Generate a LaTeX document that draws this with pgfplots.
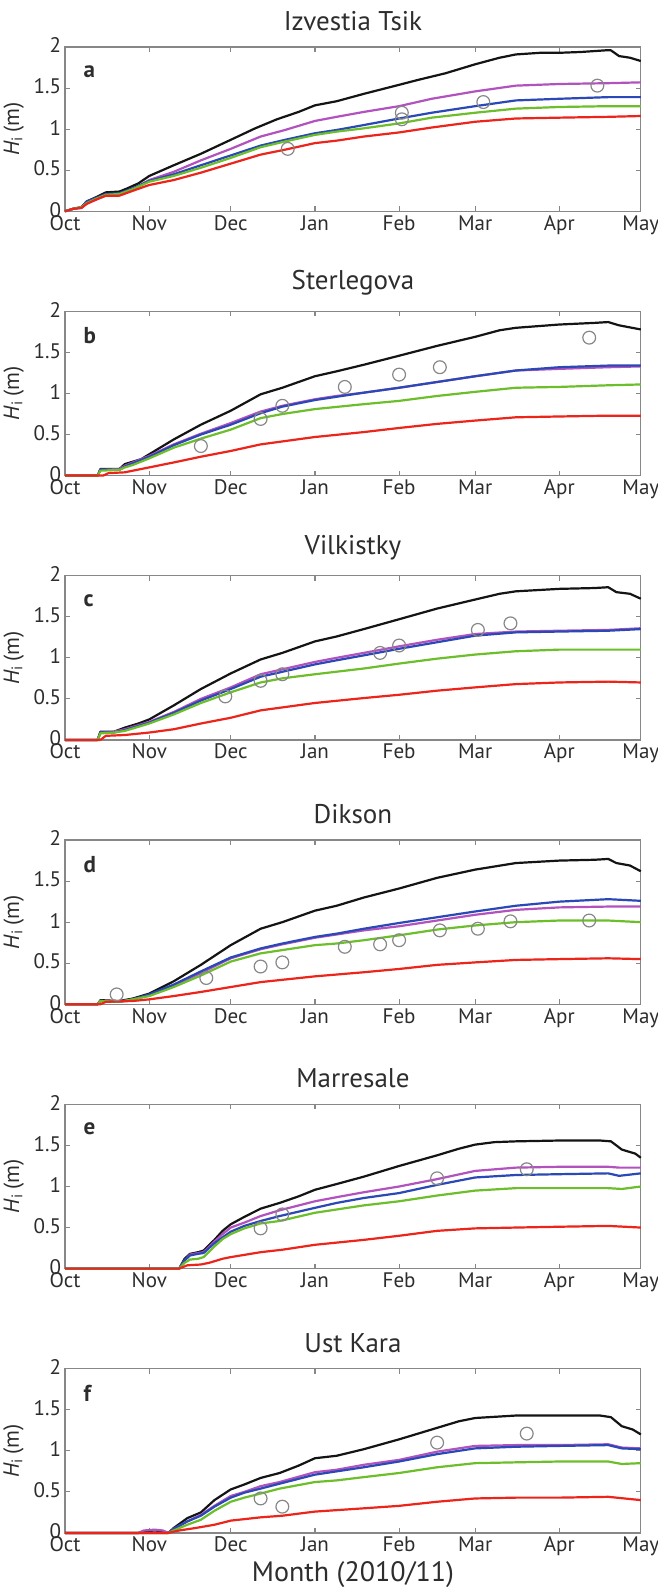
\documentclass[border=0pt]{standalone}
\usepackage{fontspec}
\setmainfont{PT Sans}
\usepackage{pgfplots}
\pgfplotsset{compat=1.18}
\usepgfplotslibrary{groupplots}

\definecolor{cblack}{RGB}{20,20,20}
\definecolor{cpurple}{RGB}{178,82,190}
\definecolor{cblue}{RGB}{42,72,182}
\definecolor{cgreen}{RGB}{108,190,42}
\definecolor{cred}{RGB}{236,36,26}
\definecolor{cgray}{RGB}{135,135,135}
\definecolor{ctext}{RGB}{45,45,45}

\pgfplotsset{
  ln/.style={no markers, line width=1.1pt, line join=round},
  obs/.style={only marks, mark=o, mark size=3.2pt, cgray, mark options={line width=0.6pt}},
}
\tikzset{panel/.style={anchor=west, font=\fontsize{11.5}{13}\selectfont\bfseries, text=ctext}}

\begin{document}
\begin{tikzpicture}
\begin{groupplot}[
  group style={group size=1 by 6, vertical sep=50pt},
  scale only axis, width=287.5pt, height=82pt,
  xmin=0, xmax=212, ymin=0, ymax=2,
  xtick={0,31,61,92,123,151,182,212},
  xticklabels={Oct,Nov,Dec,Jan,Feb,Mar,Apr,May},
  ytick={0,0.5,1,1.5,2},
  yticklabels={0,0.5,1,1.5,2},
  tick align=inside, major tick length=2.5pt,
  axis line style={cgray, line width=0.6pt},
  tick style={cgray, line width=0.6pt},
  ticklabel style={font=\fontsize{10.5}{11}\selectfont, text=ctext},
  xticklabel style={yshift=1.5pt},
  yticklabel style={xshift=1.5pt, yshift=0.8pt},
  /pgf/number format/assume math mode=true,
  ylabel={\textit{H}\textsubscript{i}\,(m)},
  ylabel style={font=\fontsize{11}{13}\selectfont, text=ctext, yshift=-2pt},
  title style={font=\fontsize{13.5}{15}\selectfont, text=ctext, yshift=-1.5pt},
  clip=false,
]
% ---------- a
\nextgroupplot[title={Izvestia Tsik}]
\addplot[ln,cblack] coordinates {(0,0) (3,0.03) (6,0.05) (8,0.12) (12,0.18) (15,0.23) (20,0.24) (23,0.28) (27,0.34) (31,0.43) (40,0.56) (50,0.70) (61,0.87) (70,1.01) (78,1.12) (86,1.21) (92,1.29) (100,1.34) (110,1.43) (123,1.54) (130,1.60) (140,1.68) (151,1.79) (160,1.87) (166,1.91) (175,1.93) (182,1.93) (190,1.94) (199,1.96) (201,1.96) (204,1.89) (208,1.87) (212,1.83)};
\addplot[ln,cpurple] coordinates {(0,0) (3,0.03) (6,0.04) (8,0.10) (12,0.15) (15,0.19) (20,0.21) (25,0.27) (31,0.38) (40,0.48) (50,0.62) (61,0.76) (72,0.91) (81,0.99) (92,1.10) (100,1.15) (110,1.21) (123,1.28) (135,1.37) (151,1.46) (166,1.53) (182,1.55) (200,1.56) (212,1.57)};
\addplot[ln,cblue] coordinates {(0,0) (3,0.03) (6,0.05) (8,0.12) (12,0.17) (15,0.21) (20,0.22) (25,0.28) (31,0.37) (40,0.45) (50,0.56) (61,0.68) (72,0.80) (81,0.87) (92,0.95) (100,0.99) (110,1.05) (123,1.13) (135,1.20) (151,1.28) (166,1.35) (182,1.37) (200,1.39) (212,1.39)};
\addplot[ln,cgreen] coordinates {(0,0) (3,0.03) (6,0.05) (8,0.10) (12,0.16) (15,0.20) (20,0.21) (25,0.27) (31,0.36) (40,0.43) (50,0.53) (61,0.65) (72,0.78) (81,0.85) (92,0.93) (100,0.97) (110,1.01) (123,1.07) (135,1.14) (151,1.20) (166,1.25) (182,1.27) (200,1.28) (212,1.28)};
\addplot[ln,cred] coordinates {(0,0) (3,0.03) (6,0.04) (8,0.09) (12,0.15) (15,0.19) (20,0.19) (25,0.25) (31,0.32) (40,0.38) (50,0.47) (61,0.58) (72,0.69) (81,0.75) (92,0.83) (100,0.86) (110,0.91) (123,0.96) (135,1.02) (151,1.09) (166,1.13) (182,1.14) (200,1.15) (212,1.16)};
\addplot[obs] coordinates {(82,0.76) (124,1.20) (124,1.12) (154,1.33) (196,1.53)};
\node[panel] at (rel axis cs:0.02,0.85) {a};
% ---------- b
\nextgroupplot[title={Sterlegova}]
\addplot[ln,cblack] coordinates {(0,0) (12,0) (13,0.08) (20,0.08) (22,0.14) (25,0.17) (28,0.20) (31,0.26) (40,0.44) (50,0.62) (61,0.79) (72,0.99) (80,1.07) (92,1.21) (100,1.27) (110,1.35) (123,1.46) (137,1.58) (151,1.69) (160,1.77) (166,1.80) (182,1.84) (195,1.86) (200,1.87) (204,1.83) (212,1.78)};
\addplot[ln,cpurple] coordinates {(0,0) (12,0) (13,0.07) (20,0.08) (22,0.12) (25,0.16) (31,0.24) (40,0.38) (50,0.51) (61,0.64) (72,0.78) (80,0.85) (92,0.93) (100,0.97) (110,1.01) (123,1.07) (137,1.14) (151,1.21) (166,1.28) (182,1.30) (200,1.32) (212,1.33)};
\addplot[ln,cblue] coordinates {(0,0) (12,0) (13,0.07) (20,0.07) (22,0.11) (25,0.15) (31,0.23) (40,0.37) (50,0.50) (61,0.62) (72,0.76) (80,0.84) (92,0.92) (100,0.96) (110,1.01) (123,1.07) (137,1.14) (151,1.21) (166,1.28) (182,1.32) (200,1.34) (212,1.34)};
\addplot[ln,cgreen] coordinates {(0,0) (12,0) (13,0.06) (20,0.07) (22,0.10) (25,0.13) (31,0.21) (40,0.34) (50,0.45) (61,0.56) (72,0.70) (80,0.75) (92,0.81) (110,0.87) (123,0.91) (137,0.97) (151,1.02) (166,1.07) (182,1.08) (200,1.10) (212,1.11)};
\addplot[ln,cred] coordinates {(0,0) (14,0) (16,0.03) (22,0.04) (31,0.10) (40,0.16) (50,0.23) (61,0.30) (72,0.38) (92,0.47) (110,0.53) (123,0.58) (137,0.63) (151,0.67) (166,0.71) (182,0.72) (200,0.73) (212,0.73)};
\addplot[obs] coordinates {(50,0.36) (72,0.69) (80,0.85) (103,1.08) (123,1.23) (138,1.32) (193,1.68)};
\node[panel] at (rel axis cs:0.02,0.85) {b};
% ---------- c
\nextgroupplot[title={Vilkistky}]
\addplot[ln,cblack] coordinates {(0,0) (12,0) (13,0.10) (18,0.10) (22,0.15) (27,0.20) (31,0.25) (40,0.42) (50,0.62) (61,0.81) (72,0.98) (80,1.06) (92,1.20) (100,1.26) (110,1.35) (123,1.47) (137,1.60) (151,1.71) (160,1.78) (166,1.81) (182,1.84) (195,1.85) (200,1.86) (203,1.80) (208,1.78) (212,1.72)};
\addplot[ln,cpurple] coordinates {(0,0) (12,0) (13,0.09) (18,0.10) (22,0.13) (27,0.18) (31,0.22) (40,0.34) (50,0.50) (61,0.64) (72,0.80) (80,0.86) (92,0.95) (100,1.00) (110,1.06) (123,1.14) (137,1.22) (151,1.29) (166,1.32) (182,1.33) (200,1.34) (212,1.36)};
\addplot[ln,cblue] coordinates {(0,0) (12,0) (13,0.09) (18,0.09) (22,0.12) (27,0.17) (31,0.21) (40,0.33) (50,0.48) (61,0.62) (72,0.77) (80,0.83) (92,0.92) (100,0.97) (110,1.03) (123,1.11) (137,1.19) (151,1.27) (166,1.31) (182,1.32) (200,1.33) (212,1.35)};
\addplot[ln,cgreen] coordinates {(0,0) (12,0) (13,0.08) (18,0.09) (22,0.11) (27,0.16) (31,0.20) (40,0.31) (50,0.45) (61,0.58) (72,0.70) (80,0.75) (92,0.80) (110,0.87) (123,0.93) (137,0.99) (151,1.04) (166,1.08) (182,1.10) (200,1.10) (212,1.10)};
\addplot[ln,cred] coordinates {(0,0) (13,0) (15,0.05) (22,0.06) (31,0.09) (40,0.13) (50,0.20) (61,0.27) (72,0.36) (92,0.45) (110,0.51) (123,0.55) (137,0.60) (151,0.64) (166,0.68) (182,0.70) (200,0.71) (212,0.70)};
\addplot[obs] coordinates {(59,0.53) (72,0.72) (80,0.80) (116,1.06) (123,1.15) (152,1.34) (164,1.42)};
\node[panel] at (rel axis cs:0.02,0.85) {c};
% ---------- d
\nextgroupplot[title={Dikson}]
\addplot[ln,cblack] coordinates {(0,0) (12,0) (13,0.05) (20,0.04) (25,0.07) (31,0.13) (40,0.28) (50,0.48) (61,0.72) (72,0.92) (80,1.00) (92,1.14) (100,1.20) (110,1.30) (123,1.41) (137,1.54) (151,1.64) (166,1.72) (182,1.75) (195,1.76) (200,1.77) (203,1.72) (208,1.69) (212,1.62)};
\addplot[ln,cpurple] coordinates {(0,0) (12,0) (13,0.04) (20,0.03) (25,0.06) (31,0.11) (40,0.23) (50,0.38) (61,0.56) (72,0.67) (80,0.73) (92,0.81) (100,0.85) (110,0.90) (123,0.95) (137,1.02) (151,1.09) (166,1.15) (182,1.18) (200,1.19) (212,1.19)};
\addplot[ln,cblue] coordinates {(0,0) (12,0) (13,0.04) (20,0.03) (25,0.06) (31,0.12) (40,0.24) (50,0.40) (61,0.57) (72,0.68) (80,0.74) (92,0.82) (100,0.86) (110,0.92) (123,0.99) (137,1.06) (151,1.13) (166,1.20) (182,1.25) (200,1.28) (212,1.26)};
\addplot[ln,cgreen] coordinates {(0,0) (12,0) (13,0.04) (20,0.03) (25,0.06) (31,0.10) (40,0.21) (50,0.35) (61,0.52) (72,0.62) (80,0.66) (92,0.72) (100,0.74) (110,0.78) (123,0.84) (137,0.91) (151,0.96) (166,1.00) (182,1.02) (200,1.02) (212,1.00)};
\addplot[ln,cred] coordinates {(0,0) (13,0) (15,0.03) (25,0.04) (31,0.06) (40,0.10) (50,0.15) (61,0.21) (72,0.27) (92,0.34) (110,0.39) (123,0.43) (137,0.48) (151,0.51) (166,0.54) (182,0.55) (200,0.56) (212,0.55)};
\addplot[obs] coordinates {(19,0.12) (52,0.32) (72,0.46) (80,0.51) (103,0.70) (116,0.73) (123,0.78) (138,0.90) (152,0.92) (164,1.01) (193,1.02)};
\node[panel] at (rel axis cs:0.02,0.85) {d};
% ---------- e
\nextgroupplot[title={Marresale}]
\addplot[ln,cblack] coordinates {(0,0) (42,0) (44,0.12) (46,0.18) (49,0.20) (51,0.22) (55,0.35) (58,0.46) (61,0.54) (66,0.63) (72,0.73) (79,0.80) (86,0.88) (92,0.96) (100,1.03) (110,1.12) (123,1.25) (137,1.38) (145,1.46) (151,1.51) (158,1.54) (166,1.55) (182,1.56) (197,1.56) (201,1.55) (205,1.45) (210,1.40) (212,1.35)};
\addplot[ln,cpurple] coordinates {(0,0) (42,0) (44,0.10) (46,0.17) (49,0.19) (51,0.20) (55,0.33) (58,0.42) (61,0.50) (66,0.56) (72,0.64) (79,0.71) (92,0.82) (100,0.87) (110,0.93) (123,1.00) (137,1.09) (151,1.19) (166,1.23) (182,1.24) (200,1.24) (204,1.23) (212,1.23)};
\addplot[ln,cblue] coordinates {(0,0) (42,0) (44,0.10) (46,0.16) (49,0.18) (51,0.19) (55,0.31) (58,0.38) (61,0.45) (66,0.52) (72,0.58) (79,0.64) (92,0.74) (100,0.80) (110,0.86) (123,0.92) (137,1.02) (151,1.11) (166,1.14) (182,1.15) (200,1.16) (204,1.13) (212,1.16)};
\addplot[ln,cgreen] coordinates {(0,0) (42,0) (44,0.07) (46,0.11) (49,0.12) (51,0.14) (55,0.27) (58,0.36) (61,0.42) (66,0.49) (72,0.55) (79,0.58) (92,0.68) (100,0.72) (110,0.77) (123,0.82) (137,0.89) (151,0.95) (166,0.98) (182,0.98) (200,0.98) (205,0.97) (212,1.00)};
\addplot[ln,cred] coordinates {(0,0) (42,0) (45,0.04) (50,0.05) (53,0.07) (58,0.12) (61,0.14) (72,0.20) (80,0.23) (92,0.29) (110,0.35) (123,0.40) (137,0.46) (151,0.49) (166,0.50) (182,0.51) (200,0.52) (212,0.50)};
\addplot[obs] coordinates {(72,0.49) (80,0.66) (137,1.10) (170,1.21)};
\node[panel] at (rel axis cs:0.02,0.85) {e};
% ---------- f
\nextgroupplot[title={Ust Kara}, xlabel={Month (2010/11)},
  xlabel style={font=\fontsize{14}{16}\selectfont, text=ctext, yshift=4pt}]
\addplot[ln,cblack] coordinates {(0,0) (27,0) (29,0.02) (33,0.03) (36,0.02) (38,0) (40,0.06) (45,0.18) (50,0.25) (55,0.40) (61,0.53) (66,0.59) (72,0.67) (79,0.73) (86,0.82) (92,0.91) (100,0.94) (110,1.02) (123,1.14) (137,1.28) (145,1.36) (151,1.40) (166,1.43) (182,1.43) (197,1.43) (201,1.41) (205,1.30) (209,1.26) (212,1.20)};
\addplot[ln,cpurple] coordinates {(0,0) (27,0) (29,0.03) (33,0.04) (36,0.03) (38,0) (40,0.05) (45,0.14) (50,0.22) (55,0.33) (61,0.45) (66,0.50) (72,0.57) (79,0.62) (92,0.74) (100,0.77) (110,0.83) (123,0.89) (137,0.99) (151,1.06) (166,1.07) (182,1.07) (200,1.08) (205,1.04) (212,1.03)};
\addplot[ln,cblue] coordinates {(0,0) (27,0) (38,0) (40,0.05) (45,0.14) (50,0.21) (55,0.32) (61,0.43) (66,0.49) (72,0.54) (79,0.60) (92,0.71) (100,0.75) (110,0.80) (123,0.87) (137,0.96) (151,1.03) (166,1.05) (182,1.06) (200,1.07) (205,1.03) (212,1.02)};
\addplot[ln,cgreen] coordinates {(0,0) (38,0) (40,0.03) (45,0.10) (50,0.16) (55,0.27) (61,0.38) (66,0.43) (72,0.48) (79,0.54) (92,0.62) (100,0.64) (110,0.68) (123,0.73) (137,0.80) (151,0.85) (166,0.86) (182,0.87) (200,0.87) (205,0.84) (212,0.85)};
\addplot[ln,cred] coordinates {(0,0) (38,0) (42,0.03) (48,0.06) (55,0.10) (61,0.15) (72,0.19) (80,0.21) (92,0.26) (110,0.30) (123,0.33) (137,0.38) (151,0.42) (166,0.43) (182,0.43) (200,0.44) (212,0.40)};
\addplot[obs] coordinates {(72,0.42) (80,0.32) (137,1.10) (170,1.21)};
\node[panel] at (rel axis cs:0.02,0.85) {f};
\end{groupplot}
\pgfresetboundingbox
\path ([shift={(-32.5pt,23.5pt)}]group c1r1.north west) rectangle ([shift={(8.5pt,-27pt)}]group c1r6.south east);
\end{tikzpicture}
\end{document}
